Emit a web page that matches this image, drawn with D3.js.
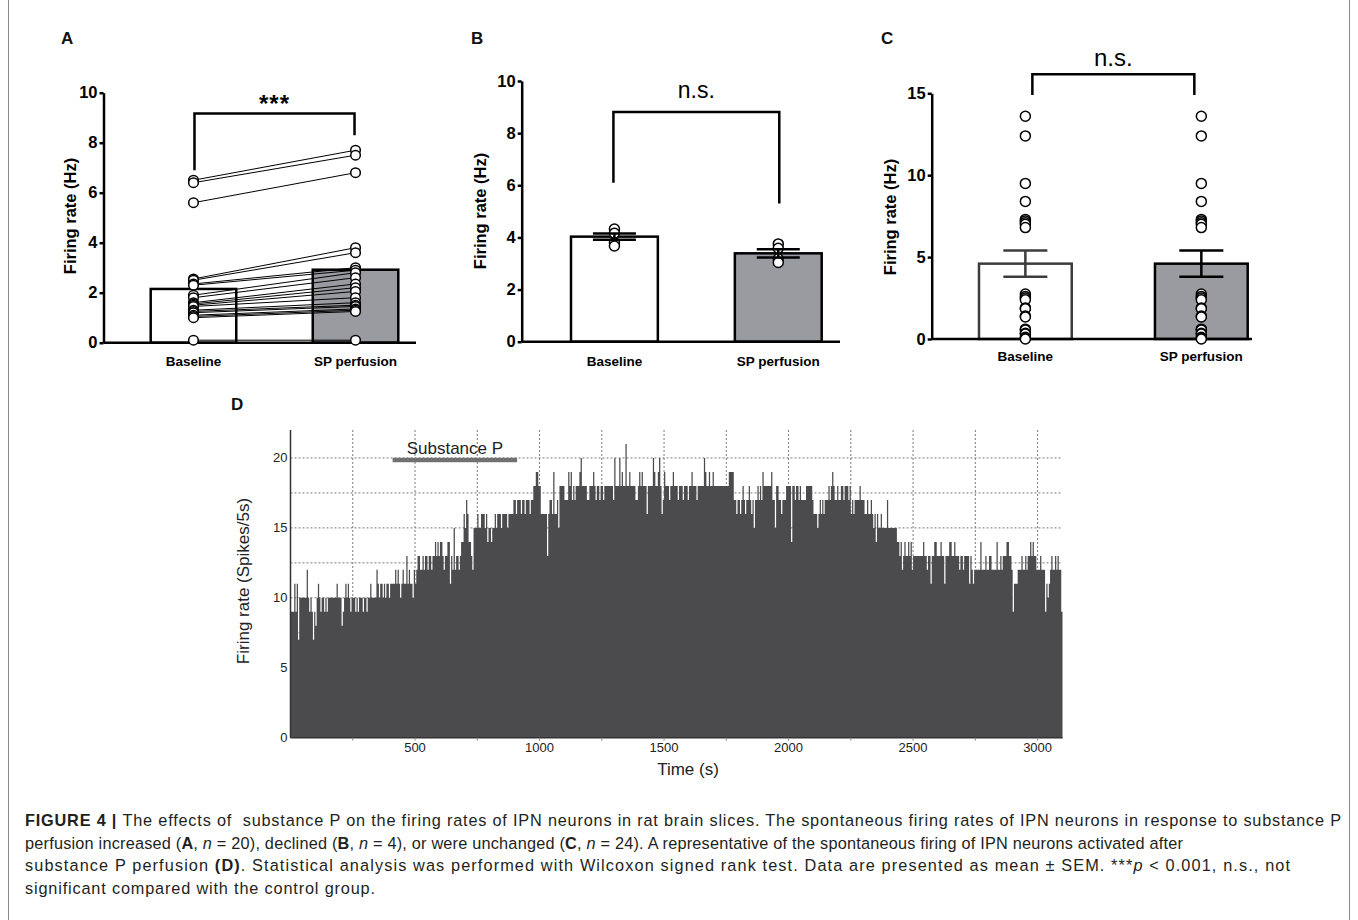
<!DOCTYPE html>
<html><head><meta charset="utf-8">
<script src="https://cdn.jsdelivr.net/npm/d3@7"></script>
<style>
body{margin:0;background:#fff}
svg{display:block}
text{font-family:"Liberation Sans",Arial,Helvetica,sans-serif}
</style></head>
<body><svg id="fig" width="1358" height="920"></svg>
<script>
// ---------------- DATA ----------------
const groups = ["Baseline", "SP perfusion"];

// Panel A (n = 20, paired)
const aBaseline = [6.5, 6.4, 5.6, 2.55, 2.5, 2.35, 2.3, 1.9, 1.8, 1.6, 1.55, 1.5, 1.45, 1.3, 1.25, 1.2, 1.1, 1.05, 1.0, 0.1];
const aSP       = [7.7, 7.5, 6.8, 3.8, 3.6, 3.0, 2.9, 2.8, 2.6, 2.35, 2.2, 2.05, 1.8, 1.6, 1.5, 1.45, 1.35, 1.3, 1.25, 0.1];
const aMeans = [2.15, 2.92];
const aTicks = [0, 2, 4, 6, 8, 10];
const aBracket = {top: 9.17, left: 6.9, right: 8.3, label: "***"};

// Panel B (n = 4)
const bBaseline = [4.32, 4.16, 3.80, 3.67];
const bSP       = [3.75, 3.58, 3.18, 3.04];
const bMeans = [4.03, 3.39];
const bSEM   = [0.12, 0.16];
const bTicks = [0, 2, 4, 6, 8, 10];
const bBracket = {top: 8.81, left: 6.1, right: 5.3, label: "n.s."};

// Panel C (n = 24)
const cBaseline = [13.6, 12.4, 9.5, 8.4, 7.3, 7.2, 7.1, 7.0, 6.8, 2.75, 2.6, 2.5, 2.4, 1.9, 1.85, 1.4, 1.35, 0.6, 0.55, 0.35, 0.3, 0.1, 0.05, 0.0];
const cSP       = [13.6, 12.4, 9.5, 8.4, 7.3, 7.2, 7.1, 7.0, 6.8, 2.75, 2.6, 2.5, 2.4, 1.9, 1.85, 1.4, 1.35, 0.6, 0.55, 0.35, 0.3, 0.1, 0.05, 0.0];
const cMeans = [4.6, 4.6];
const cSEM   = [0.8, 0.8];
const cTicks = [0, 5, 10, 15];
const cBracket = {top: 16.16, left: 14.9, right: 14.9, label: "n.s."};

// Panel D: spikes per 5 s bin, 0 - 3100 s
const dBinSec = 5;
const dRate = [
 9,9,9,11,9,11,7,10,10,10, 10,10,10,12,10,9,10,9,7,9,
 8,10,11,10,9,10,10,9,10,9, 10,10,10,10,10,10,10,11,10,10,
 10,8,9,10,11,10,11,10,9,10, 10,10,9,10,9,10,10,10,9,10,
 10,9,10,10,11,10,10,10,10,12, 11,10,11,11,10,11,10,11,11,10,
 11,11,11,11,12,11,12,11,10,11, 12,11,11,13,11,12,11,11,10,12,
 11,12,13,13,12,12,13,12,13,13, 12,13,13,12,13,13,14,13,14,13,
 14,14,13,12,13,13,14,14,11,13, 12,15,12,13,13,12,13,14,14,16,
 15,17,16,14,14,13,12,15,15,15, 16,15,15,16,16,16,15,16,14,15,
 15,14,15,15,16,15,16,16,16,15, 16,16,16,16,15,16,16,16,16,17,
 17,16,17,17,17,16,17,17,16,17, 17,17,16,17,17,18,18,19,19,18,
 18,16,16,16,16,16,13,16,17,17, 16,19,16,16,17,15,18,18,18,18,
 17,17,17,19,18,19,17,18,17,18, 18,18,19,20,18,18,18,18,17,17,
 18,18,18,19,18,17,18,18,17,18, 18,17,18,18,18,18,18,18,18,17,
 20,18,18,18,20,18,19,18,18,21, 18,18,19,18,18,18,18,17,17,18,
 19,18,19,18,18,18,16,18,18,18, 18,20,19,18,18,19,20,18,16,17,
 19,18,18,18,17,18,18,19,18,18, 18,17,18,18,18,17,18,18,18,17,
 18,18,19,18,18,18,17,18,18,18, 18,18,20,19,18,18,19,18,18,19,
 18,18,18,18,18,18,18,18,18,18, 18,18,19,19,19,19,17,17,16,17,
 17,16,17,18,17,16,17,17,18,17, 16,17,15,17,17,18,17,18,17,19,
 18,18,18,18,18,18,19,17,17,15, 18,18,17,17,16,17,17,17,18,18,
 18,18,14,18,18,17,18,18,17,18, 17,17,17,17,18,18,18,18,18,17,
 16,16,16,15,16,17,16,17,16,17, 17,17,18,17,18,19,18,17,17,18,
 17,17,18,18,17,18,18,18,17,18, 16,17,16,17,17,17,17,18,17,17,
 17,16,16,17,16,16,17,16,15,16, 14,16,15,15,16,15,15,15,15,17,
 15,15,15,15,15,15,15,14,14,13, 14,12,13,14,13,13,14,13,14,12,
 13,13,13,13,13,13,13,13,14,13, 13,12,13,13,11,13,13,14,14,13,
 13,13,14,13,13,11,13,13,13,14, 14,13,13,14,13,13,13,12,13,13,
 12,13,13,13,13,11,13,12,11,12, 12,12,12,12,14,12,12,12,13,12,
 12,13,13,12,12,12,12,14,12,12, 13,12,13,13,13,14,14,13,13,12,
 9,11,11,11,12,12,12,13,12,12, 13,12,13,13,14,13,14,13,13,12,
 12,12,13,12,12,12,9,11,10,11, 12,13,12,12,13,12,13,12,12,9
];
const dYTicks = [0, 5, 10, 15, 20];
const dXTicks = [500, 1000, 1500, 2000, 2500, 3000];
const dGridX = [250, 500, 750, 1000, 1250, 1500, 1750, 2000, 2250, 2500, 2750, 3000];
const dGridY = [2.5, 5, 7.5, 10, 12.5, 15, 17.5, 20];
const dDrug = {label: "Substance P", start: 410, end: 910};

// ---------------- DRAWING ----------------
const svg = d3.select("#fig");
const FONT = '"Liberation Sans",Arial,Helvetica,sans-serif';
const SP_FILL = "#9a9aa1";

// frame
svg.append("line").attr("x1", 8.5).attr("x2", 8.5).attr("y1", 0).attr("y2", 920).attr("stroke", "#8a8a8a").attr("stroke-width", 1);
svg.append("line").attr("x1", 1349.5).attr("x2", 1349.5).attr("y1", 0).attr("y2", 920).attr("stroke", "#8a8a8a").attr("stroke-width", 1);

function panelLabel(txt, x, y) {
  svg.append("text").attr("x", x).attr("y", y).attr("font-size", 17).attr("font-weight", "bold").attr("fill", "#111").text(txt);
}

function barPanel(cfg) {
  const g = svg.append("g");
  const y = d3.scaleLinear().domain([0, cfg.ymax]).range([cfg.y0, cfg.yTop]);
  const x = d3.scaleBand().domain(groups).range([cfg.bandStart, cfg.bandEnd]).paddingInner(cfg.pInner).paddingOuter(0);
  const cx = k => x(k) + x.bandwidth() / 2;

  // y axis
  const ax = g.append("g").attr("transform", `translate(${cfg.axisX},0)`)
    .call(d3.axisLeft(y).tickValues(cfg.ticks).tickSize(4).tickSizeOuter(0).tickPadding(2).tickFormat(d3.format("d")));
  ax.select(".domain").attr("stroke", "#000").attr("stroke-width", 2.5);
  ax.selectAll(".tick line").attr("stroke", "#000").attr("stroke-width", 2.5);
  ax.selectAll(".tick text").attr("font-family", FONT).attr("font-size", 16.5).attr("font-weight", "bold").attr("fill", "#000");

  // bars
  g.selectAll("rect.bar").data(groups).join("rect")
    .attr("x", d => x(d)).attr("width", x.bandwidth())
    .attr("y", (d, i) => y(cfg.means[i])).attr("height", (d, i) => y(0) - y(cfg.means[i]))
    .attr("fill", (d, i) => i === 0 ? "#fff" : SP_FILL)
    .attr("stroke", (d, i) => cfg.barStroke ? cfg.barStroke[i] : "#000").attr("stroke-width", 2.5);

  // x axis baseline
  g.append("line").attr("x1", cfg.axisX).attr("x2", cfg.axisRight).attr("y1", y(0)).attr("y2", y(0))
    .attr("stroke", "#000").attr("stroke-width", 2.5);

  // paired lines
  if (cfg.paired) {
    g.selectAll("line.pair").data(cfg.vals[0]).join("line")
      .attr("x1", cx(groups[0])).attr("x2", cx(groups[1]))
      .attr("y1", d => y(d)).attr("y2", (d, i) => y(cfg.vals[1][i]))
      .attr("stroke", "#000").attr("stroke-width", 1);
  }
  // points
  groups.forEach((k, gi) => {
    g.selectAll(null).data(cfg.vals[gi]).join("circle")
      .attr("cx", cx(k)).attr("cy", d => y(d)).attr("r", cfg.r)
      .attr("fill", "#fff").attr("stroke", "#000").attr("stroke-width", 1.5);
  });
  // error bars
  if (cfg.sem) {
    groups.forEach((k, gi) => {
      const m = cfg.means[gi], s = cfg.sem[gi], c = cx(k), hw = cfg.capHalf;
      const col = cfg.barStroke ? cfg.barStroke[gi] : "#000";
      g.append("line").attr("x1", c).attr("x2", c).attr("y1", y(m + s)).attr("y2", y(m - s)).attr("stroke", col).attr("stroke-width", 2.5);
      g.append("line").attr("x1", c - hw).attr("x2", c + hw).attr("y1", y(m + s)).attr("y2", y(m + s)).attr("stroke", col).attr("stroke-width", 2.5);
      g.append("line").attr("x1", c - hw).attr("x2", c + hw).attr("y1", y(m - s)).attr("y2", y(m - s)).attr("stroke", col).attr("stroke-width", 2.5);
    });
  }
  // bracket
  const b = cfg.bracket;
  const bl = cx(groups[0]) + cfg.bracketInset, br = cx(groups[1]) - cfg.bracketInset;
  g.append("path")
    .attr("d", `M${bl},${y(b.left)}V${y(b.top)}H${br}V${y(b.right)}`)
    .attr("fill", "none").attr("stroke", "#000").attr("stroke-width", 2.5);
  g.append("text").attr("x", (bl + br) / 2).attr("y", y(b.top) + cfg.labelDy)
    .attr("text-anchor", "middle").attr("font-size", cfg.labelSize)
    .attr("font-weight", b.label === "***" ? "bold" : "normal").attr("letter-spacing", b.label === "***" ? 1 : 0)
    .attr("fill", "#000").text(b.label);

  // category labels
  g.selectAll("text.cat").data(groups).join("text")
    .attr("x", d => cx(d)).attr("y", cfg.catY).attr("text-anchor", "middle")
    .attr("font-size", 13.5).attr("font-weight", "bold").attr("fill", "#000").text(d => d);

  // y title
  g.append("text").attr("transform", `translate(${cfg.titleX},${cfg.titleY}) rotate(-90)`)
    .attr("text-anchor", "middle").attr("font-size", 16.5).attr("font-weight", "bold").attr("fill", "#000")
    .text("Firing rate (Hz)");
}

panelLabel("A", 61, 44);
barPanel({ymax: 10, y0: 342.7, yTop: 92.7, axisX: 103.5, axisRight: 416, bandStart: 150.7, bandEnd: 398.3, pInner: 0.472,
  ticks: aTicks, means: aMeans, vals: [aBaseline, aSP], paired: true, r: 4.8,
  bracket: aBracket, bracketInset: 1, labelDy: -1, labelSize: 24, catY: 366, titleX: 76, titleY: 216});

panelLabel("B", 471, 44);
barPanel({ymax: 10, y0: 341.7, yTop: 81, axisX: 521.7, axisRight: 840, bandStart: 571, bandEnd: 821.7, pInner: 0.47,
  ticks: bTicks, means: bMeans, vals: [bBaseline, bSP], sem: bSEM, capHalf: 21.5, r: 5,
  bracket: bBracket, bracketInset: -1, labelDy: -14, labelSize: 23, catY: 366, titleX: 486, titleY: 211});

panelLabel("C", 881, 44);
barPanel({ymax: 15, y0: 339, yTop: 93.3, axisX: 931.7, axisRight: 1252, bandStart: 979, bandEnd: 1247.7, pInner: 0.473,
  ticks: cTicks, means: cMeans, vals: [cBaseline, cSP], sem: cSEM, capHalf: 22, r: 5,
  barStroke: ["#3c3c3c", "#000"],
  bracket: cBracket, bracketInset: 7, labelDy: -8, labelSize: 24, catY: 361, titleX: 896, titleY: 217});

// ---------------- PANEL D ----------------
panelLabel("D", 231, 410);
{
  const g = svg.append("g");
  const x = d3.scaleLinear().domain([0, dRate.length * dBinSec]).range([290.5, 1062.5]);
  const y = d3.scaleLinear().domain([0, 22]).range([737.7, 430]);
  const grid = "#7a7a7a";

  // grid
  g.selectAll("line.gy").data(dGridY).join("line")
    .attr("x1", x(0)).attr("x2", x.range()[1]).attr("y1", d => y(d)).attr("y2", d => y(d))
    .attr("stroke", grid).attr("stroke-width", 1).attr("stroke-dasharray", "2,2");
  g.selectAll("line.gx").data(dGridX).join("line")
    .attr("x1", d => x(d)).attr("x2", d => x(d)).attr("y1", y(22)).attr("y2", y(0))
    .attr("stroke", grid).attr("stroke-width", 1).attr("stroke-dasharray", "2,2");

  // histogram as step area
  const pts = dRate.map((v, i) => [i * dBinSec, v]);
  pts.push([dRate.length * dBinSec, dRate[dRate.length - 1]]);
  const area = d3.area().x(d => x(d[0])).y0(y(0)).y1(d => y(d[1])).curve(d3.curveStepAfter);
  g.append("path").attr("d", area(pts)).attr("fill", "#4b4b4e");

  // axes
  g.append("line").attr("x1", x(0)).attr("x2", x(0)).attr("y1", y(22)).attr("y2", y(0)).attr("stroke", "#333").attr("stroke-width", 1.5);
  g.append("line").attr("x1", x(0)).attr("x2", x.range()[1]).attr("y1", y(0)).attr("y2", y(0)).attr("stroke", "#333").attr("stroke-width", 1.5);
  g.selectAll("line.xt").data(dGridX).join("line")
    .attr("x1", d => x(d)).attr("x2", d => x(d)).attr("y1", y(0)).attr("y2", y(0) + 3).attr("stroke", "#888").attr("stroke-width", 1);

  g.selectAll("text.xl").data(dXTicks).join("text")
    .attr("x", d => x(d)).attr("y", 751.5).attr("text-anchor", "middle")
    .attr("font-size", 13).attr("fill", "#222").text(d => d);
  g.selectAll("text.yl").data(dYTicks).join("text")
    .attr("x", x(0) - 3).attr("y", d => y(d) + 4.5).attr("text-anchor", "end")
    .attr("font-size", 13).attr("fill", "#222").text(d => d);

  g.append("text").attr("x", 688).attr("y", 775).attr("text-anchor", "middle").attr("font-size", 17).attr("fill", "#222").text("Time (s)");
  g.append("text").attr("transform", `translate(249,581) rotate(-90)`).attr("text-anchor", "middle")
    .attr("font-size", 17).attr("fill", "#222").text("Firing rate (Spikes/5s)");

  // drug bar
  g.append("line").attr("x1", x(dDrug.start)).attr("x2", x(dDrug.end)).attr("y1", y(20) + 2).attr("y2", y(20) + 2)
    .attr("stroke", "#717171").attr("stroke-width", 4.5);
  g.append("text").attr("x", (x(dDrug.start) + x(dDrug.end)) / 2).attr("y", y(20) - 4).attr("text-anchor", "middle")
    .attr("font-size", 17).attr("fill", "#222").text(dDrug.label);
}

// ---------------- CAPTION ----------------
const capLines = [
  {y: 826, len: 1316, parts: [["b", "FIGURE 4 | "], ["", "The effects of  substance P on the firing rates of IPN neurons in rat brain slices. The spontaneous firing rates of IPN neurons in response to substance P"]]},
  {y: 848.5, len: 1158, parts: [["", "perfusion increased ("], ["b", "A"], ["", ", "], ["i", "n"], ["", " = 20), declined ("], ["b", "B"], ["", ", "], ["i", "n"], ["", " = 4), or were unchanged ("], ["b", "C"], ["", ", "], ["i", "n"], ["", " = 24). A representative of the spontaneous firing of IPN neurons activated after"]]},
  {y: 871, len: 1265, parts: [["", "substance P perfusion "], ["b", "(D)"], ["", ". Statistical analysis was performed with Wilcoxon signed rank test. Data are presented as mean \u00b1 SEM. ***"], ["i", "p"], ["", " < 0.001, n.s., not"]]},
  {y: 893.5, len: 350, parts: [["", "significant compared with the control group."]]}
];
capLines.forEach(l => {
  const t = svg.append("text").attr("x", 25).attr("y", l.y).attr("font-size", 16.3).attr("fill", "#231f20")
    .attr("textLength", l.len).attr("lengthAdjust", "spacing").attr("xml:space", "preserve");
  l.parts.forEach(p => {
    t.append("tspan").attr("font-weight", p[0] === "b" ? "bold" : "normal")
      .attr("font-style", p[0] === "i" ? "italic" : "normal").text(p[1]);
  });
});
</script>
</body></html>
